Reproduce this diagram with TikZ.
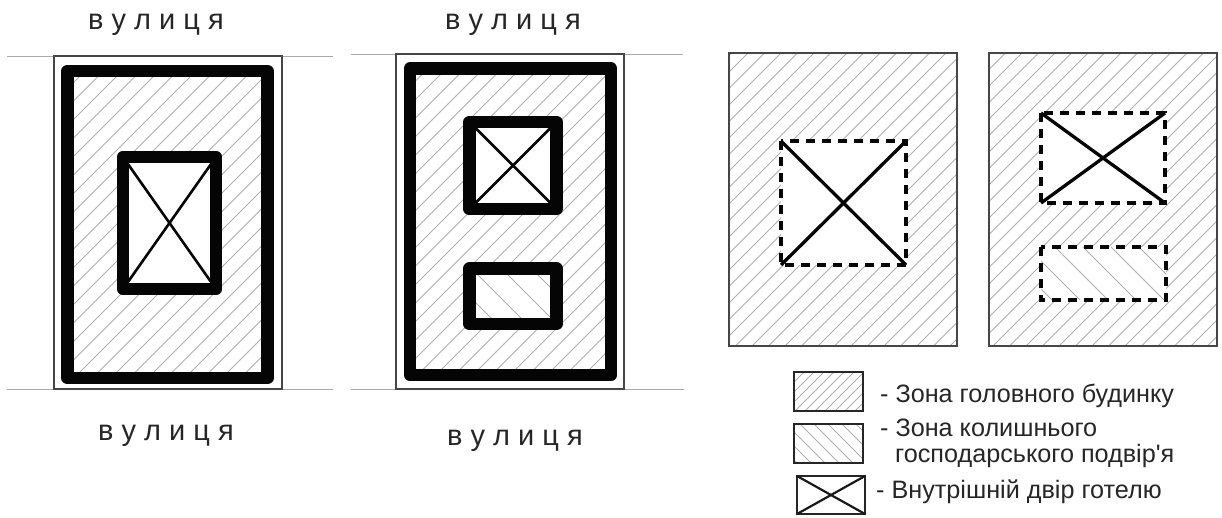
\documentclass[tikz,border=0pt]{standalone}
\usepackage{fontspec}
\setmainfont{Liberation Sans}[Ligatures=TeXOff]
\usepackage{xcolor}
\definecolor{HatchGray}{RGB}{175,175,175}
\definecolor{WallBlack}{RGB}{5,5,5}
\definecolor{PlotGray}{RGB}{70,70,70}
\definecolor{StreetGray}{RGB}{170,170,170}
\tikzset{
  street/.style={draw=StreetGray, line width=0.9pt},
  plot/.style={draw=PlotGray, line width=1.1pt},
  hatch/.style={draw=HatchGray, line width=0.8pt},
  wall/.style={draw=WallBlack, line width=12.5pt, line join=round},
  court/.style={draw=WallBlack, line width=2.6pt},
  dashwall/.style={draw=WallBlack, line width=4.6pt, dash pattern=on 9pt off 7pt},
  dashcourt/.style={draw=WallBlack, line width=3.3pt},
  legendbox/.style={draw=black!85, line width=1.6pt},
  legendcross/.style={draw=black!90, line width=2.2pt},
  streetlabel/.style={font=\fontsize{29}{31}\selectfont, text=black!85},
  legendlabel/.style={font=\fontsize{25.2}{28}\selectfont, text=black!85, anchor=west, inner sep=0pt}
}
% hatching: x1,y1,x2,y2,spacing,phase
\newcommand{\hatchup}[6]{
  \begin{scope}
    \clip (#1,#2) rectangle (#3,#4);
    \foreach \d in {0,#5,...,800}
      \draw[hatch] (#1+#6+\d,#2) -- ++(-500,500);
  \end{scope}
}
\newcommand{\hatchdown}[6]{
  \begin{scope}
    \clip (#1,#2) rectangle (#3,#4);
    \foreach \d in {0,#5,...,800}
      \draw[hatch] (#1-400+#6+\d,#2) -- ++(500,500);
  \end{scope}
}
\begin{document}
\begin{tikzpicture}[x=1pt,y=-1pt]
  \useasboundingbox (0,0) rectangle (1222,518);

  % plan 1
  \node[streetlabel] (streetA) at (156,25) {в у л и ц я};
  \node[streetlabel] (streetB) at (166,436) {в у л и ц я};
  \draw[street] (7,56) -- (333,56);
  \draw[street] (7,389) -- (333,389);
  \hatchup{67}{71}{268}{378}{18.5}{18}
  \draw[plot] (54,56) rectangle (282,389);
  \draw[wall] (67.5,71) rectangle (267.5,378);
  \fill[white] (123,157) rectangle (216,289);
  \draw[court] (123,157) -- (216,289);
  \draw[court] (216,157) -- (123,289);
  \draw[wall] (123,157) rectangle (216,289);

  % plan 2
  \node[streetlabel] (streetC) at (513,25) {в у л и ц я};
  \node[streetlabel] (streetD) at (515,441) {в у л и ц я};
  \draw[street] (351,54) -- (683,54);
  \draw[street] (351,389) -- (684,389);
  \hatchup{410}{68}{611}{375}{18.5}{0}
  \draw[plot] (396,54) rectangle (624,389);
  \draw[wall] (410,68.5) rectangle (611,375);
  \fill[white] (469.5,122) rectangle (556.5,209);
  \draw[court] (469.5,122) -- (556.5,209);
  \draw[court] (556.5,122) -- (469.5,209);
  \draw[wall] (469.5,122) rectangle (556.5,209);
  \fill[white] (469.5,268.5) rectangle (556.5,324);
  \hatchdown{469.5}{268.5}{556.5}{324}{30}{12}
  \draw[wall] (469.5,268.5) rectangle (556.5,324);

  % plan 3
  \hatchup{729}{53}{957}{346}{16.5}{2.5}
  \draw[plot] (729,53) rectangle (957,346);
  \fill[white] (781,141) rectangle (906,265);
  \draw[dashcourt] (781,141) -- (906,265);
  \draw[dashcourt] (906,141) -- (781,265);
  \draw[dashwall] (781,141) rectangle (906,265);

  % plan 4
  \hatchup{989}{53}{1217}{346}{16.5}{0}
  \draw[plot] (989,53) rectangle (1217,346);
  \fill[white] (1041,113) rectangle (1165,203);
  \draw[dashcourt] (1041,113) -- (1165,203);
  \draw[dashcourt] (1165,113) -- (1041,203);
  \draw[dashwall] (1041,113) rectangle (1165,203);
  \fill[white] (1041,247) rectangle (1166,300);
  \hatchdown{1041}{247}{1166}{300}{28}{22}
  \draw[dashwall] (1041,247) rectangle (1166,300);

  % legend
  \hatchup{794}{372}{863}{411}{10}{0}
  \draw[legendbox] (794,372) rectangle (863,411);
  \hatchdown{794}{424}{863}{463}{14}{0}
  \draw[legendbox] (794,424) rectangle (863,463);
  \draw[legendbox] (797,476) rectangle (865,514);
  \draw[legendcross] (797,476) -- (865,514);
  \draw[legendcross] (865,476) -- (797,514);
  \node[legendlabel] (labelMain) at (880,396) {- Зона головного будинку};
  \node[legendlabel] (labelYardA) at (880,428) {- Зона колишнього};
  \node[legendlabel] (labelYardB) at (895,456) {господарського подвір'я};
  \node[legendlabel] (labelCourt) at (876,492) {- Внутрішній двір готелю};
\end{tikzpicture}
\end{document}
